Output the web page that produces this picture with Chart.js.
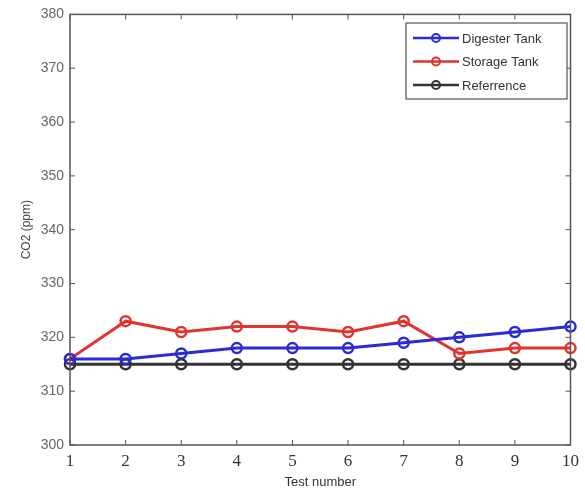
<!DOCTYPE html>
<html>
<head>
<meta charset="utf-8">
<script src="https://cdn.jsdelivr.net/npm/chart.js@4"></script>
<style>
  body { margin: 0; background: #fff; }
  #wrap { width: 585px; height: 490px; }
</style>
</head>
<body>
<div id="wrap"><canvas id="co2Chart" width="585" height="490"></canvas></div>
<script>
// data
const testNumbers = ["1", "2", "3", "4", "5", "6", "7", "8", "9", "10"];
const digesterTank = [316, 316, 317, 318, 318, 318, 319, 320, 321, 322];
const storageTank = [316, 323, 321, 322, 322, 321, 323, 317, 318, 318];
const reference = [315, 315, 315, 315, 315, 315, 315, 315, 315, 315];
const yTicks = [300, 310, 320, 330, 340, 350, 360, 370, 380];

// matlab style box, inward ticks and legend inside the axes
const matlabBox = {
  id: "matlabBox",
  afterDraw(chart) {
    const c = chart.ctx;
    const a = chart.chartArea;
    const xs = chart.scales.x;
    const ys = chart.scales.y;
    c.save();
    c.strokeStyle = "#555";
    c.lineWidth = 1.5;
    c.strokeRect(a.left, a.top, a.right - a.left, a.bottom - a.top);
    c.lineWidth = 1;
    for (let i = 0; i < testNumbers.length; i++) {
      const px = xs.getPixelForValue(i);
      c.beginPath();
      c.moveTo(px, a.bottom); c.lineTo(px, a.bottom - 5);
      c.moveTo(px, a.top); c.lineTo(px, a.top + 5);
      c.stroke();
    }
    yTicks.forEach(v => {
      const py = ys.getPixelForValue(v);
      c.beginPath();
      c.moveTo(a.left, py); c.lineTo(a.left + 5, py);
      c.moveTo(a.right, py); c.lineTo(a.right - 5, py);
      c.stroke();
    });

    // legend box
    const lx = 406, ly = 23, lw = 161, lh = 76;
    c.fillStyle = "#fff";
    c.fillRect(lx, ly, lw, lh);
    c.strokeStyle = "#555";
    c.lineWidth = 1.2;
    c.strokeRect(lx, ly, lw, lh);
    c.font = "13px 'Liberation Sans', Arial, sans-serif";
    c.textBaseline = "middle";
    chart.data.datasets.forEach((ds, i) => {
      const yy = ly + 15 + i * 23.5;
      c.strokeStyle = ds.borderColor;
      c.lineWidth = 2.5;
      c.beginPath();
      c.moveTo(lx + 7, yy); c.lineTo(lx + 53, yy);
      c.stroke();
      c.beginPath();
      c.arc(lx + 30, yy, 4, 0, Math.PI * 2);
      c.lineWidth = 2;
      c.stroke();
      c.fillStyle = "#333";
      c.fillText(ds.label, lx + 56, yy + 1);
    });
    c.restore();
  }
};

const ctx = document.getElementById("co2Chart").getContext("2d");

const lineStyle = (color) => ({
  borderColor: color,
  backgroundColor: color,
  borderWidth: 3,
  pointRadius: 5,
  pointBorderWidth: 2.5,
  pointBackgroundColor: "rgba(255,255,255,0)",
  pointBorderColor: color,
  tension: 0,
  fill: false
});

new Chart(ctx, {
  type: "line",
  data: {
    labels: testNumbers,
    datasets: [
      Object.assign({ label: "Digester Tank", data: digesterTank }, lineStyle("#2a2ad6")),
      Object.assign({ label: "Storage Tank", data: storageTank }, lineStyle("#e0352f")),
      Object.assign({ label: "Referrence", data: reference }, lineStyle("#333333"))
    ]
  },
  options: {
    responsive: false,
    animation: false,
    layout: { padding: { top: 14, right: 12, left: 19, bottom: 0 } },
    plugins: {
      legend: { display: false },
      tooltip: { enabled: false }
    },
    scales: {
      x: {
        offset: false,
        grid: { display: false, drawTicks: false },
        border: { display: false },
        ticks: {
          color: "#333",
          padding: 6,
          maxRotation: 0,
          font: { family: "'Liberation Serif', 'Times New Roman', serif", size: 17 }
        },
        title: {
          display: true,
          text: "Test number",
          color: "#333",
          padding: { top: 0, bottom: 0 },
          font: { family: "'Liberation Sans', Arial, sans-serif", size: 13 }
        },
        afterFit(scale) { scale.height = 45; }
      },
      y: {
        min: 300,
        max: 380,
        grid: { display: false, drawTicks: false },
        border: { display: false },
        afterBuildTicks(scale) { scale.ticks = yTicks.map(v => ({ value: v })); },
        ticks: {
          color: "#666",
          padding: 6,
          font: { family: "'Liberation Sans', Arial, sans-serif", size: 14 }
        },
        title: {
          display: true,
          text: "CO2 (ppm)",
          color: "#444",
          padding: { top: 0, bottom: 4 },
          font: { family: "'Liberation Sans', Arial, sans-serif", size: 12 }
        },
        afterFit(scale) { scale.width = 51; }
      }
    }
  },
  plugins: [matlabBox]
});
</script>
</body>
</html>
